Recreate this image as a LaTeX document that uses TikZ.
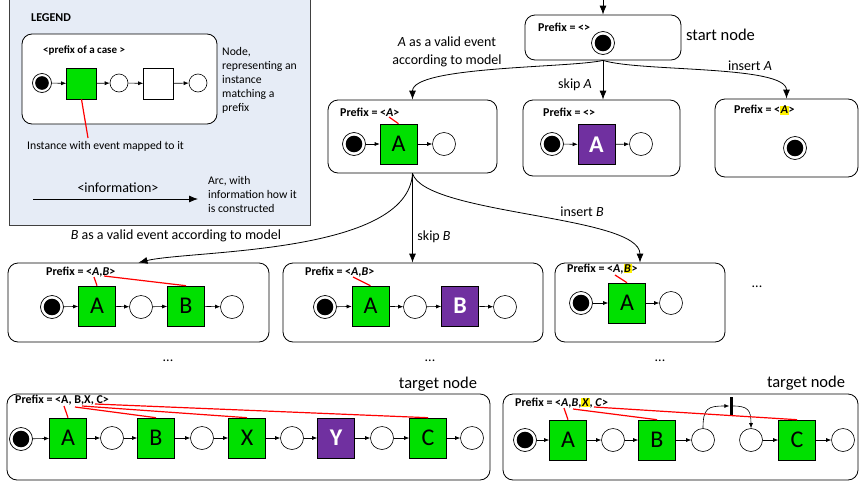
\documentclass[tikz,border=0pt]{standalone}
\usepackage{fontspec}
\setmainfont{Carlito}
\usetikzlibrary{arrows.meta}
\definecolor{lgbg}{HTML}{E6ECF6}
\definecolor{mygreen}{HTML}{00E000}
\definecolor{mypurple}{HTML}{7030A0}
\newcommand{\hlt}[1]{{\setlength{\fboxsep}{0.6pt}\colorbox{yellow}{#1}}}
\begin{document}
\begin{tikzpicture}[x=1pt,y=-1pt,
  box/.style={draw, rounded corners=10pt, line width=0.8pt, inner sep=0},
  sq/.style={draw, line width=0.6pt, inner sep=0, minimum width=37pt, minimum height=40pt, font=\fontsize{24}{24}\selectfont},
  gsq/.style={sq, fill=mygreen},
  psq/.style={sq, fill=mypurple, text=white, font=\fontsize{24}{24}\selectfont\bfseries},
  place/.style={circle, draw, line width=0.6pt, minimum size=#1, inner sep=0},
  place/.default=23pt,
  startp/.style={circle, draw, line width=0.7pt, minimum size=#1, inner sep=0,
    path picture={\fill[black] (path picture bounding box.center) circle[radius=0.36*#1];}},
  startp/.default=23pt,
  flow/.style={-{Latex[length=5pt,width=4pt]}, line width=0.6pt},
  arc/.style={-{Latex[length=9pt,width=7pt]}, line width=0.8pt},
  redl/.style={red, line width=1.2pt},
  pfx/.style={anchor=west, inner sep=0, font=\fontsize{12}{14}\selectfont\bfseries},
  lbl/.style={inner sep=0, font=\fontsize{14}{18}\selectfont},
  small/.style={inner sep=0, font=\fontsize{11.7}{14}\selectfont},
]
\useasboundingbox (0,0) rectangle (860,482);

% ---------------- legend ----------------
\fill[lgbg] (9,-5) rectangle (310,225);
\draw[line width=0.8pt, draw=black!75] (9,-5) rectangle (310,225);
\node[anchor=west, inner sep=0, font=\fontsize{12}{14}\selectfont\bfseries] (lgt) at (31,18) {LEGEND};
\node[box, fill=white, minimum width=195pt, minimum height=90pt] (lgbox) at (119.5,79) {};
\node[pfx, font=\fontsize{11}{13}\selectfont\bfseries] (lgpfx) at (43,50) {<prefix of a case >};
\node[startp=19pt] (l0) at (42,83) {};
\node[sq, fill=mygreen, minimum width=30pt, minimum height=31pt] (l1) at (81.5,83.5) {};
\node[place=18pt] (l2) at (119,83) {};
\node[sq, fill=white, minimum width=30pt, minimum height=31pt] (l3) at (158.5,83.5) {};
\node[place=18pt] (l4) at (198,83) {};
\draw[flow] (l0) -- (l1);
\draw[flow] (l1) -- (l2);
\draw[flow] (l2) -- (l3);
\draw[flow] (l3) -- (l4);
\coordinate (lr) at (88,138);
\draw[redl] (l1.south) -- (lr);
\node[small, anchor=west] (lgi) at (27,146) {Instance with event mapped to it};
\node[small, anchor=north west, align=left] (lgn) at (222,47) {Node,\\representing an\\instance\\matching a\\prefix};
\node[lbl] (lginf) at (118,188) {<information>};
\coordinate (la1) at (33,199);
\coordinate (la2) at (198,199);
\draw[arc] (la1) -- (la2);
\node[small, anchor=north west, align=left] (lga) at (208,176) {Arc, with\\information how it\\is constructed};

% ---------------- start node ----------------
\node[box, minimum width=156pt, minimum height=45pt] (bS) at (603,37.5) {};
\node[pfx] (pS) at (538,27) {Prefix = <>};
\node[startp] (s0) at (603,43) {};
\node[anchor=west, inner sep=0, font=\fontsize{16.5}{18}\selectfont] (tS) at (686,35) {start node};
\coordinate (topin) at (603,0);
\draw[arc] (topin) -- (bS.north);

% ---------------- row 1 ----------------
\node[box, minimum width=169pt, minimum height=73pt] (bA) at (412.5,136.5) {};
\node[pfx] (pA) at (340,112) {Prefix = <\textit{A}>};
\node[startp] (a0) at (354,144) {};
\node[gsq] (a1) at (398.5,144) {A};
\node[place] (a2) at (444,144) {};
\draw[flow] (a0) -- (a1);
\draw[flow] (a1) -- (a2);
\coordinate (rA) at (389,117);
\draw[redl] (rA) -- (a1.north);

\node[box, minimum width=157pt, minimum height=76pt] (bK) at (601.5,138) {};
\node[pfx] (pK) at (543,112) {Prefix = <>};
\node[startp] (k0) at (552,144) {};
\node[psq] (k1) at (596.5,144.5) {A};
\node[place] (k2) at (641,144) {};
\draw[flow] (k0) -- (k1);
\draw[flow] (k1) -- (k2);

\node[box, minimum width=143pt, minimum height=78pt] (bI) at (786.5,138) {};
\node[pfx] (pI) at (734,110) {Prefix = <\hlt{\textit{A}}>};
\node[startp] (i0) at (795,148) {};

\draw[arc] (bS.south) .. controls (570,68) and (412.5,66) .. (bA.north);
\node[lbl, align=center] (lA) at (447,52) {\textit{A} as a valid event\\according to model};
\draw[arc] (bS.south) -- (bS.south |- bK.north);
\node[lbl] (lK) at (575,85) {skip \textit{A}};
\draw[arc] (bS.south) .. controls (640,72) and (786.5,65) .. (bI.north);
\node[lbl] (lI) at (750,66) {insert \textit{A}};

% ---------------- row 2 ----------------
\node[box, minimum width=261pt, minimum height=79pt] (bAB) at (138.5,302.5) {};
\node[pfx] (pAB) at (46,272) {Prefix = <\textit{A},\textit{B}>};
\node[startp] (ab0) at (52,307) {};
\node[gsq] (ab1) at (97,306) {A};
\node[place] (ab2) at (141,307) {};
\node[gsq] (ab3) at (186,306) {B};
\node[place] (ab4) at (232,307) {};
\draw[flow] (ab0) -- (ab1);
\draw[flow] (ab1) -- (ab2);
\draw[flow] (ab2) -- (ab3);
\draw[flow] (ab3) -- (ab4);
\coordinate (rAB1) at (94,277);
\coordinate (rAB2) at (104,276);
\draw[redl] (rAB1) -- (ab1.north);
\draw[redl] (rAB2) -- (ab3.north);

\node[box, minimum width=260pt, minimum height=79pt] (bSB) at (413,302.5) {};
\node[pfx] (pSB) at (305,272) {Prefix = <\textit{A},\textit{B}>};
\node[startp] (sb0) at (325,307) {};
\node[gsq] (sb1) at (370.5,306) {A};
\node[place] (sb2) at (415,307) {};
\node[psq] (sb3) at (460,306) {B};
\node[place] (sb4) at (505,307) {};
\draw[flow] (sb0) -- (sb1);
\draw[flow] (sb1) -- (sb2);
\draw[flow] (sb2) -- (sb3);
\draw[flow] (sb3) -- (sb4);
\coordinate (rSB) at (353,277);
\draw[redl] (rSB) -- (sb1.north);

\node[box, minimum width=170pt, minimum height=79pt] (bIB) at (640,302.5) {};
\node[pfx] (pIB) at (567,269) {Prefix = <\textit{A},\hlt{\textit{B}}>};
\node[startp] (ib0) at (581,303) {};
\node[gsq] (ib1) at (627,303) {A};
\node[place] (ib2) at (671,303) {};
\draw[flow] (ib0) -- (ib1);
\draw[flow] (ib1) -- (ib2);
\coordinate (rIB) at (615,275);
\draw[redl] (rIB) -- (ib1.north);

\draw[arc] (bA.south) .. controls (408,255) and (190,250) .. (bAB.north);
\node[lbl] (lAB) at (176,236) {\textit{B} as a valid event according to model};
\draw[arc] (bA.south) -- (bA.south |- bSB.north);
\node[lbl] (lSB) at (434,237) {skip \textit{B}};
\draw[arc] (bA.south) .. controls (425,215) and (640,215) .. (bIB.north);
\node[lbl] (lIB) at (582,212) {insert \textit{B}};

\node[lbl] (d0) at (757,287) {...};
\node[lbl] (d1) at (168,361) {...};
\node[lbl] (d2) at (430,361) {...};
\node[lbl] (d3) at (660,361) {...};

% ---------------- row 3 left ----------------
\node[anchor=center, inner sep=0, font=\fontsize{16.5}{18}\selectfont] (tT1) at (438,384) {target node};
\node[box, minimum width=483pt, minimum height=86pt] (bT1) at (248.5,437) {};
\node[pfx] (pT1) at (15,400) {Prefix = <A, B,X, C>};
\node[startp] (t0) at (21,439) {};
\node[gsq] (t1) at (68,438) {A};
\node[place] (t2) at (112,438) {};
\node[gsq] (t3) at (156,438) {B};
\node[place] (t4) at (202,438) {};
\node[gsq] (t5) at (247,438) {X};
\node[place] (t6) at (292,438) {};
\node[psq] (t7) at (336,438) {Y};
\node[place] (t8) at (382,438) {};
\node[gsq] (t9) at (428,438) {C};
\node[place] (t10) at (472,438) {};
\foreach \a/\b in {t0/t1,t1/t2,t2/t3,t3/t4,t4/t5,t5/t6,t6/t7,t7/t8,t8/t9,t9/t10}
  \draw[flow] (\a) -- (\b);
\coordinate (rT1a) at (64,406);
\coordinate (rT1b) at (75,407);
\coordinate (rT1x) at (82,406);
\coordinate (rT1c) at (95,404);
\draw[redl] (rT1a) -- (t1.north);
\draw[redl] (rT1b) -- (t3.north);
\draw[redl] (rT1x) -- (t5.north);
\draw[redl] (rT1c) -- (t9.north);

% ---------------- row 3 right ----------------
\node[anchor=center, inner sep=0, font=\fontsize{16.5}{18}\selectfont] (tT2) at (806,383) {target node};
\node[box, minimum width=355pt, minimum height=86pt] (bT2) at (680.5,437) {};
\node[pfx] (pT2) at (515,403) {Prefix = <\textit{A},\textit{B},\hlt{\textit{X}}, \textit{C}>};
\node[startp] (u0) at (525,440) {};
\node[gsq] (u1) at (568,440) {A};
\node[place] (u2) at (613,440) {};
\node[gsq] (u3) at (657,440) {B};
\node[place] (u4) at (703,440) {};
\node[place] (u5) at (751,440) {};
\node[gsq] (u6) at (797,440) {C};
\node[place] (u7) at (843,440) {};
\foreach \a/\b in {u0/u1,u1/u2,u2/u3,u3/u4,u5/u6,u6/u7}
  \draw[flow] (\a) -- (\b);
\node[fill=black, inner sep=0, minimum width=3pt, minimum height=18pt] (bar) at (731,406) {};
\draw[flow] (u4.north) .. controls (703,408) and (708,406) .. (bar.west);
\draw[flow] (bar.east) .. controls (748,406) and (751,410) .. (u5.north);
\coordinate (rT2a) at (564,408);
\coordinate (rT2b) at (573,409);
\coordinate (rT2c) at (594,407);
\draw[redl] (rT2a) -- (u1.north);
\draw[redl] (rT2b) -- (u3.north);
\draw[redl] (rT2c) -- (u6.north);
\end{tikzpicture}
\end{document}
